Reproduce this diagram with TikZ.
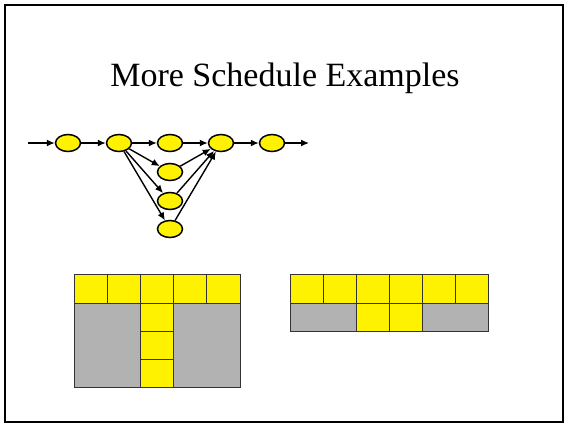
\documentclass[tikz,border=0pt]{standalone}
\usepackage{fontspec}
\setmainfont{Liberation Serif}
\usepackage{tikz}
\usetikzlibrary{arrows.meta}
\usetikzlibrary{positioning}
\usetikzlibrary{shapes.geometric}

\tikzset{
  task/.style={ellipse, draw, line width=1.5pt, fill=yellow, minimum width=25pt, minimum height=17pt, inner sep=0pt},
  link/.style={-{Latex[length=8pt,width=7pt]}, line width=1.4pt},
  cell/.style={draw=black!80, line width=0.8pt, fill=yellow},
  idle/.style={draw=black!80, line width=0.8pt, fill=black!30}
}

\begin{document}
\begin{tikzpicture}[x=1pt, y=-1pt, node distance=51pt]
\useasboundingbox (0,0) rectangle (565,424);
\draw[line width=1.8pt] (5,5) rectangle (563,422);

\node (title) at (285,78) {\fontsize{34pt}{40pt}\selectfont More Schedule Examples};

% Nodes
\coordinate (in) at (28,143);
\node [task] at (68,143) (n1) {};
\node [task, right of=n1] (n2) {};
\node [task, right of=n2] (n3) {};
\node [task, right of=n3] (n4) {};
\node [task, right of=n4] (n5) {};
\coordinate [right of=n5, xshift=-14pt] (out);

\node [task, below of=n3, node distance=29pt] (n6) {};
\node [task, below of=n6, node distance=29pt] (n7) {};
\node [task, below of=n7, node distance=28pt] (n8) {};

% Connections
\draw[link] (in) -- (n1);
\draw[link] (n1) -- (n2);
\draw[link] (n2) -- (n3);
\draw[link] (n3) -- (n4);
\draw[link] (n4) -- (n5);
\draw[link] (n5) -- (out);

\draw[link] (n2) -- (n6);
\draw[link] (n2) -- (n7);
\draw[link] (n2) -- (n8);
\draw[link] (n6) -- (n4);
\draw[link] (n7) -- (n4);
\draw[link] (n8) -- (n4);

% Schedule, left
\draw[idle] (74,303) rectangle (240,387);
\foreach \i in {0,...,4}
  \draw[cell] (74+33.2*\i,274) rectangle ++(33.2,29);
\foreach \j in {0,1,2}
  \draw[cell] (140.4,303+28*\j) rectangle ++(33.2,28);

% Schedule, right
\draw[idle] (290,303) rectangle (488,331);
\foreach \i in {0,...,5}
  \draw[cell] (290+33*\i,274) rectangle ++(33,29);
\foreach \i in {2,3}
  \draw[cell] (290+33*\i,303) rectangle ++(33,28);

\end{tikzpicture}
\end{document}
